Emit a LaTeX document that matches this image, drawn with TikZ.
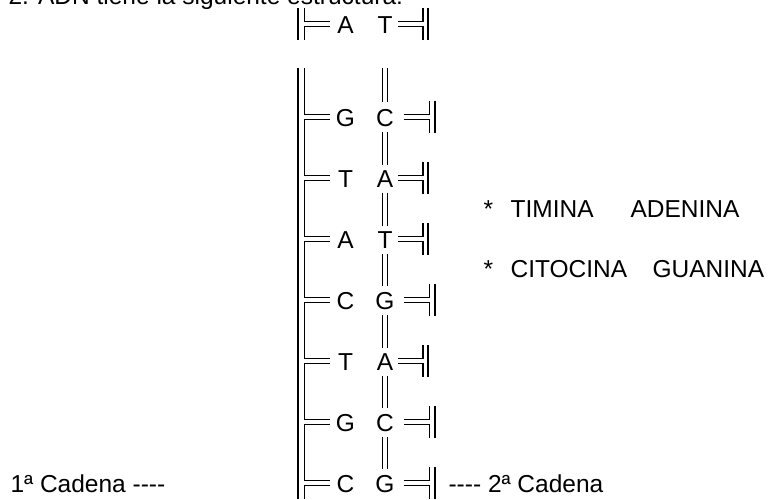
\documentclass[tikz,border=0pt]{standalone}
\usepackage{fontspec}
\setmainfont{Liberation Sans}
\newcommand\fourdash{-\kern0pt-\kern0pt-\kern0pt-}
\begin{document}
\begin{tikzpicture}[x=1pt,y=-1pt,line width=1.15pt,
  txt/.style={font=\fontsize{24.5}{28}\selectfont,inner sep=0pt,anchor=base west},
  base/.style={font=\fontsize{24.5}{28}\selectfont,inner sep=0pt,anchor=base},
  dbl/.style={double,double distance=4.4pt}]
\useasboundingbox (0,0) rectangle (771,499);
\coordinate (li) at (304.5,0);
\foreach \k/\yb/\l/\r/\w in {1/33/A/T/0,2/126/G/C/1,3/187/T/A/0,4/248/A/T/0,5/309/C/G/1,6/370/T/A/0,7/431/G/C/1,8/492/C/G/1}{
  \node[base] (L\k) at (345.5,\yb) {\l};
  \node[base] (R\k) at (385,\yb) {\r};
  \pgfmathsetmacro\yc{\yb-8.7}
  \pgfmathsetmacro\yup{\yc-2.5}
  \pgfmathsetmacro\ydn{\yc+2.5}
  \pgfmathsetmacro\ytop{\yc-16}
  \pgfmathsetmacro\ybot{\yc+16}
  \pgfmathsetmacro\xs{398+6*\w}
  \pgfmathsetmacro\xi{423+6.5*\w}
  \pgfmathsetmacro\xo{428+7*\w}
  \coordinate (LU\k) at (330,\yup);
  \coordinate (LD\k) at (330,\ydn);
  \draw (\xo,\ytop) -- (\xo,\ybot);
  \draw (\xi,\ytop) -- (\xi,\yup) -- (\xs,\yup);
  \draw (\xs,\ydn) -- (\xi,\ydn) -- (\xi,\ybot);
}
% left strand, first rung
\draw (298,8) -- (298,40);
\draw (304.5,8) -- (LU1 -| li) -- (LU1);
\draw (LD1) -- (LD1 -| li) -- (304.5,40);
% left strand, main
\draw (298,68) -- (298,499);
\draw (304.5,68) -- (LU2 -| li) -- (LU2);
\foreach \k/\n in {2/3,3/4,4/5,5/6,6/7,7/8}{
  \draw (LD\k) -- (LD\k -| li) -- (LU\n -| li) -- (LU\n);
}
\draw (LD8) -- (LD8 -| li) -- (304.5,499);
% middle strand
\draw[dbl] (385,68) -- ([yshift=6pt]R2.north);
\foreach \k/\n in {2/3,3/4,4/5,5/6,6/7,7/8}{
  \draw[dbl] ([yshift=-5pt]R\k.south) -- ([yshift=5pt]R\n.north);
}
% texts
\node[txt] (title) at (8,4) {2. ADN tiene la siguiente estructura:};
\node[txt] (cad1) at (10,492) {1ª Cadena \fourdash};
\node[txt] (cad2) at (448,492) {\fourdash{} 2ª Cadena};
\node[txt] (s1) at (483,217) {*};
\node[txt] (tim) at (510,217) {TIMINA};
\node[txt] (ade) at (630,217) {ADENINA};
\node[txt] (s2) at (483,277) {*};
\node[txt] (cit) at (510,277) {CITOCINA};
\node[txt] (gua) at (652,277) {GUANINA};
\end{tikzpicture}
\end{document}
